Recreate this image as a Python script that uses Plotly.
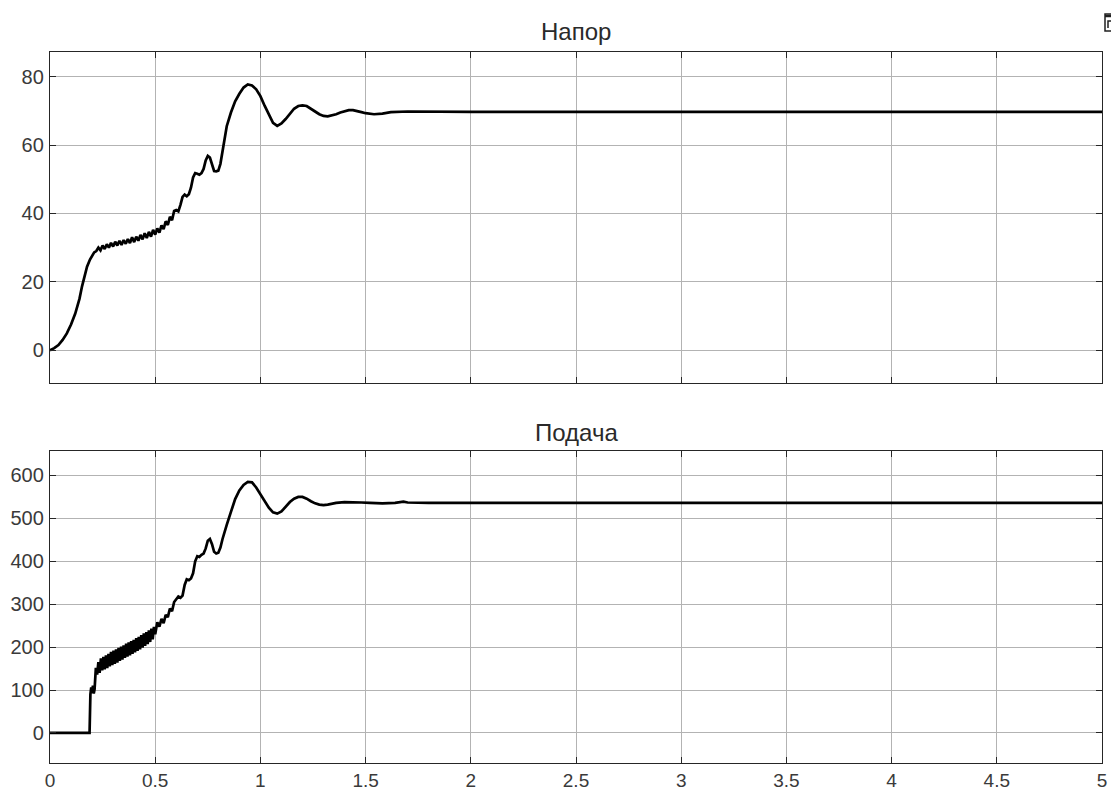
import plotly.graph_objects as go

# ---- Data: Напор (head) ----
t_head = [0, 0.02, 0.04, 0.06, 0.08, 0.10, 0.12, 0.14, 0.152, 0.165, 0.176, 0.19, 0.20, 0.21,
          0.22, 0.23, 0.24, 0.25, 0.26, 0.27, 0.28, 0.29, 0.30, 0.31, 0.32, 0.33, 0.34, 0.35,
          0.36, 0.37, 0.38, 0.39, 0.40, 0.41, 0.42, 0.43, 0.44, 0.45, 0.46, 0.47, 0.48, 0.49,
          0.50, 0.51, 0.52, 0.53, 0.54, 0.55, 0.56, 0.57, 0.58, 0.59, 0.60, 0.61, 0.62, 0.63,
          0.64, 0.65, 0.66, 0.67, 0.68, 0.69, 0.70, 0.71, 0.72, 0.73, 0.74, 0.75, 0.76, 0.77,
          0.78, 0.79, 0.80, 0.81, 0.82, 0.83, 0.84, 0.86, 0.88, 0.90, 0.92, 0.94, 0.96, 0.98,
          1.00, 1.02, 1.04, 1.06, 1.08, 1.10, 1.12, 1.14, 1.16, 1.18, 1.20, 1.22, 1.24, 1.26,
          1.28, 1.30, 1.32, 1.34, 1.36, 1.38, 1.40, 1.42, 1.44, 1.46, 1.48, 1.50, 1.54, 1.58,
          1.62, 1.70, 1.80, 2.0, 5.0]
head = [0, 0.6, 1.5, 3.0, 4.9, 7.5, 10.7, 15.0, 18.6, 22.0, 24.4, 26.5, 27.5, 28.6,
        29.0, 30.0, 29.2, 30.6, 29.6, 31.0, 30.0, 31.4, 30.3, 31.7, 30.6, 32.0, 30.8, 32.2,
        31.1, 32.5, 31.3, 33.0, 31.6, 33.2, 32.0, 33.7, 32.4, 34.2, 32.8, 34.6, 33.2, 35.2,
        33.8, 35.6, 34.4, 36.5, 35.4, 37.7, 36.6, 39.0, 38.0, 40.7, 41.0, 40.6, 42.5, 44.8,
        45.5, 45.0, 45.6, 47.5, 50.5, 51.8, 51.6, 51.3, 51.8, 53.0, 55.5, 56.8, 56.3, 54.0,
        52.4, 52.3, 52.5, 54.5, 58.5, 62.5, 65.5, 69.5, 72.8, 75.0, 76.8, 77.7, 77.4, 76.3,
        74.3, 71.5, 68.8, 66.5, 65.6, 66.3, 67.6, 69.2, 70.6, 71.4, 71.6, 71.4, 70.7, 69.8,
        69.0, 68.5, 68.4, 68.6, 69.0, 69.5, 69.9, 70.2, 70.2, 70.0, 69.6, 69.3, 69.0, 69.2,
        69.6, 69.8, 69.7, 69.7, 69.7]

# ---- Data: Подача (flow) ----
t_flow = [0, 0.188, 0.192, 0.196, 0.200, 0.204, 0.208, 0.212,
          0.218, 0.224, 0.230, 0.236, 0.242, 0.248, 0.254, 0.260, 0.266, 0.272, 0.278, 0.284,
          0.290, 0.296, 0.302, 0.308, 0.314, 0.320, 0.326, 0.332, 0.338, 0.344, 0.350, 0.356,
          0.362, 0.368, 0.374, 0.380, 0.386, 0.392, 0.398, 0.404, 0.410, 0.416, 0.422, 0.428,
          0.434, 0.440, 0.446, 0.452, 0.458, 0.464, 0.470, 0.476, 0.482, 0.488, 0.494, 0.500,
          0.51, 0.52, 0.53, 0.54, 0.55, 0.56, 0.57, 0.58, 0.59, 0.60, 0.61, 0.62, 0.63, 0.64,
          0.65, 0.66, 0.67, 0.68, 0.69, 0.70, 0.71, 0.72, 0.73, 0.74, 0.75, 0.76, 0.77, 0.78,
          0.79, 0.80, 0.81, 0.82, 0.83, 0.84, 0.86, 0.88, 0.90, 0.92, 0.94, 0.96, 0.98, 1.00,
          1.02, 1.04, 1.06, 1.08, 1.10, 1.12, 1.14, 1.16, 1.18, 1.20, 1.22, 1.24, 1.26, 1.28,
          1.30, 1.32, 1.36, 1.40, 1.44, 1.48, 1.52, 1.58, 1.64, 1.68, 1.70, 1.80, 5.0]
flow = [0, 0, 90, 106, 93, 110, 92, 102,
        152, 136, 165, 140, 174, 146, 177, 148, 181, 151, 184, 155,
        189, 158, 192, 161, 195, 164, 198, 168, 201, 171, 204, 175,
        208, 178, 211, 181, 214, 184, 217, 188, 221, 191, 224, 195,
        228, 199, 232, 203, 235, 207, 239, 212, 243, 218, 247, 230,
        258, 248, 266, 256, 275, 270, 290, 284, 305, 312, 318, 315, 320, 345,
        358, 356, 360, 372, 400, 412, 410, 415, 418, 430, 448, 452, 440, 422,
        418, 420, 432, 452, 470, 485, 515, 545, 565, 578, 585, 584, 572, 557,
        540, 525, 514, 511, 516, 527, 538, 546, 550, 550, 546, 540, 535, 532,
        531, 532, 536, 538, 538, 537, 536, 535, 536, 539, 537, 536, 536]

titles = ["Напор", "Подача"]
x_ticks = [0, 0.5, 1, 1.5, 2, 2.5, 3, 3.5, 4, 4.5, 5]
head_ticks = [0, 20, 40, 60, 80]
flow_ticks = [0, 100, 200, 300, 400, 500, 600]

W, H = 1119, 792
OFF = 8  # page body margin
# target pixel boxes (as seen on screen)
PL, PR = 50, 1102
TOP1, BOT1 = 52, 383
TOP2, BOT2 = 451, 763
L = PL - OFF
R = W - (PR - OFF)
T = TOP1 - OFF
B = H - (BOT2 - OFF)
ph = H - T - B
pw = W - L - R


def py(y):  # screen y -> paper y
    return (BOT2 - y) / ph


def px(x):  # screen x -> paper x
    return (x - PL) / pw


top_dom = [py(BOT1), 1.0]
bot_dom = [0.0, py(TOP2)]

FONT = "Liberation Sans, Arial"
fig = go.Figure()
fig.add_trace(go.Scatter(x=t_head, y=head, mode="lines", xaxis="x", yaxis="y",
                         line=dict(color="black", width=2.7), showlegend=False))
fig.add_trace(go.Scatter(x=t_flow, y=flow, mode="lines", xaxis="x2", yaxis="y2",
                         line=dict(color="black", width=2.7), showlegend=False))

axis_common = dict(showline=True, linecolor="#262626", linewidth=1.4, mirror="allticks",
                   ticks="inside", ticklen=6, tickcolor="#262626", showgrid=True,
                   gridcolor="#b3b3b3", gridwidth=1, zeroline=False, automargin=False,
                   tickfont=dict(family=FONT, size=20, color="#3a3a3a"))

fig.update_layout(
    width=W, height=H,
    margin=dict(l=L, r=R, t=T, b=B, autoexpand=False),
    paper_bgcolor="white", plot_bgcolor="white",
    xaxis=dict(domain=[0, 1], anchor="y", range=[0, 5], tickvals=x_ticks,
               showticklabels=False, **axis_common),
    yaxis=dict(domain=top_dom, anchor="x", range=[-9.6, 87.2], tickvals=head_ticks,
               ticklabelstandoff=1, **axis_common),
    xaxis2=dict(domain=[0, 1], anchor="y2", range=[0, 5], tickvals=x_ticks,
                ticktext=[("%g" % v) for v in x_ticks], ticklabelstandoff=0,
                **{**axis_common, "tickfont": dict(family=FONT, size=19, color="#3a3a3a")}),
    yaxis2=dict(domain=bot_dom, anchor="x2", range=[-70, 657], tickvals=flow_ticks,
                ticklabelstandoff=1, **axis_common),
    annotations=[
        dict(text=titles[0], xref="paper", yref="paper", x=0.5, y=py(32),
             xanchor="center", yanchor="middle", showarrow=False,
             font=dict(family=FONT, size=24, color="#2a2a2a")),
        dict(text=titles[1], xref="paper", yref="paper", x=0.5, y=py(432),
             xanchor="center", yanchor="middle", showarrow=False,
             font=dict(family=FONT, size=24, color="#2a2a2a")),
    ],
    shapes=[
        dict(type="rect", xref="paper", yref="paper",
             x0=px(1105), x1=px(1116), y0=py(31), y1=py(14),
             line=dict(color="#202020", width=1.5), fillcolor="white"),
        dict(type="line", xref="paper", yref="paper",
             x0=px(1105), x1=px(1116), y0=py(16), y1=py(16),
             line=dict(color="#202020", width=2.5)),
        dict(type="path", xref="paper", yref="paper",
             path="M %f,%f L %f,%f L %f,%f" % (px(1108), py(28), px(1108), py(21),
                                                px(1113), py(21)),
             line=dict(color="#202020", width=1.5)),
    ],
)

fig.write_html("out.html")
